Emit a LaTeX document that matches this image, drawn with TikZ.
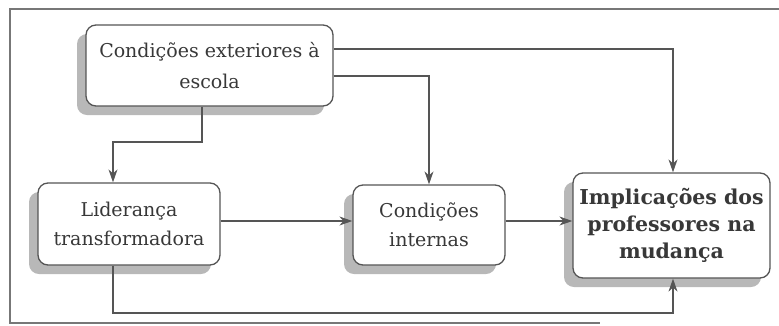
\documentclass[tikz,border=0pt]{standalone}
\usepackage{fontspec}
\setmainfont{DejaVu Serif}
\usetikzlibrary{arrows.meta,shadows}
\definecolor{ln}{HTML}{555555}
\definecolor{tx}{HTML}{383838}
\definecolor{sh}{HTML}{B8B8B8}
\tikzset{
  box/.style={draw=ln, line width=1.3pt, rounded corners=10pt, fill=white, align=center,
    text=tx, inner sep=0pt,
    drop shadow={shadow xshift=-9pt, shadow yshift=-9pt, fill=sh, opacity=1},
    font=\fontsize{19pt}{31pt}\selectfont},
  conn/.style={draw=ln, line width=1.2pt, -{Stealth[length=13pt,width=9pt]}},
  frame/.style={draw=ln!80, line width=1.2pt}
}
\begin{document}
\begin{tikzpicture}[x=1pt,y=-1pt]
\useasboundingbox (0,0) rectangle (779,325);
\draw[frame] (779,9) -- (10,9) -- (10,323) -- (600,323);
\node[box, minimum width=247pt, minimum height=81pt] (ext) at (209.5,65.5) {Condições exteriores à\\escola};
\node[box, minimum width=182pt, minimum height=82pt, font=\fontsize{19pt}{29pt}\selectfont] (lid) at (129,224) {Liderança\\transformadora};
\node[box, minimum width=152pt, minimum height=80pt, font=\fontsize{19pt}{29pt}\selectfont] (cond) at (429,225) {Condições\\internas};
\node[box, minimum width=197pt, minimum height=105pt, font=\bfseries\fontsize{20.5pt}{27pt}\selectfont] (impl) at (671.5,225.5) {Implicações dos\\professores na\\mudança};
\draw[conn] (ext.east |- 0,49) -| (impl.north -| 673,0);
\draw[conn] (ext.east |- 0,76) -| (cond.north);
\draw[conn] (ext.south -| 202,0) -- (202,142) -| (lid.north -| 113,0);
\draw[conn] (lid.east |- 0,221) -- (cond.west |- 0,221);
\draw[conn] (cond.east |- 0,221) -- (impl.west |- 0,221);
\draw[conn] (lid.south -| 113,0) -- (113,313) -| (impl.south -| 673,0);
\end{tikzpicture}
\end{document}
